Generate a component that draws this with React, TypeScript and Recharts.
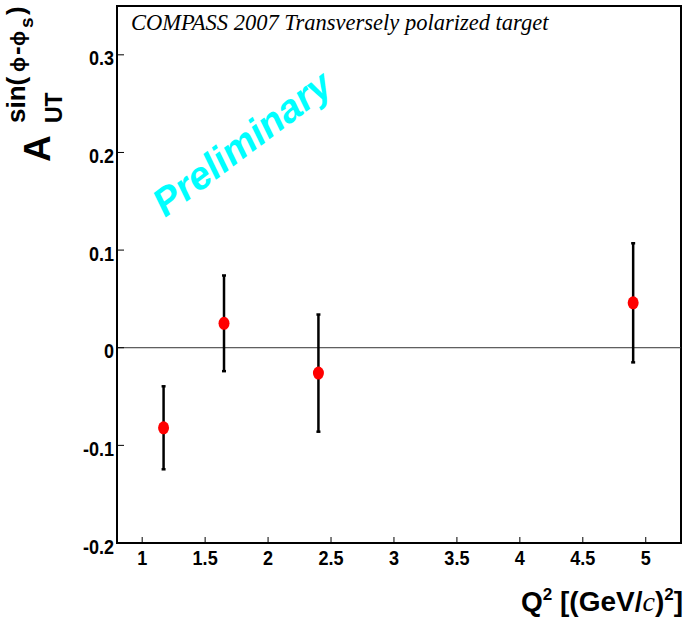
import React from 'react';
import {
  ScatterChart,
  Scatter,
  XAxis,
  YAxis,
  ErrorBar,
  ReferenceLine,
  ReferenceArea,
} from 'recharts';

// Q2 bins and measured asymmetry
const q2 = [1.17, 1.65, 2.4, 4.9];
const asym = [-0.082, 0.025, -0.026, 0.046];
const asymErr = [0.0425, 0.049, 0.06, 0.061];

const xTicks = [1, 1.5, 2, 2.5, 3, 3.5, 4, 4.5, 5];
const yTicks = [-0.2, -0.1, 0, 0.1, 0.2, 0.3];
const xDomain = [0.8, 5.28];
const yDomain = [-0.2, 0.35];

const points = q2.map((x, i) => ({ x, y: asym[i], err: asymErr[i] }));

const W = 689;
const H = 619;
const font = "'Liberation Sans', Arial, sans-serif";

const XTick = (props: any) => {
  const { x, y, payload } = props;
  return (
    <g>
      <line x1={x} y1={y} x2={x} y2={y - 6} stroke="#000" strokeWidth={1} />
      <g transform={`translate(${x},${y + 22}) scale(0.86,1)`}>
        <text textAnchor="middle" fontFamily={font} fontWeight="bold" fontSize={21} fill="#000">
          {payload.value}
        </text>
      </g>
    </g>
  );
};

const YTick = (props: any) => {
  const { x, y, payload } = props;
  return (
    <g>
      <line x1={x} y1={y} x2={x + 7} y2={y} stroke="#000" strokeWidth={1} />
      <g transform={`translate(${x - 3},${y + 10.5}) scale(0.86,1)`}>
        <text textAnchor="end" fontFamily={font} fontWeight="bold" fontSize={21} fill="#000">
          {payload.value}
        </text>
      </g>
    </g>
  );
};

// red marker, a bit taller than wide
const Dot = (props: any) => (
  <ellipse cx={props.cx} cy={props.cy} rx={5.5} ry={6.5} fill="#ff0000" />
);

export default function App() {
  return (
    <div style={{ position: 'absolute', left: 0, top: 0, width: W, height: H, background: '#fff' }}>
      <ScatterChart width={W} height={H} margin={{ top: 6, right: 8, bottom: 0, left: 0 }}>
        <XAxis
          type="number"
          dataKey="x"
          domain={xDomain}
          ticks={xTicks}
          allowDataOverflow
          height={76}
          tickSize={0}
          tickMargin={0}
          tickLine={false}
          axisLine={{ stroke: '#000', strokeWidth: 2 }}
          tick={XTick}
          interval={0}
        />
        <YAxis
          type="number"
          dataKey="y"
          domain={yDomain}
          ticks={yTicks}
          allowDataOverflow
          width={117}
          tickSize={0}
          tickMargin={0}
          tickLine={false}
          axisLine={{ stroke: '#000', strokeWidth: 2 }}
          tick={YTick}
          interval={0}
        />
        <ReferenceArea
          x1={xDomain[0]}
          x2={xDomain[1]}
          y1={yDomain[0]}
          y2={yDomain[1]}
          fill="none"
          fillOpacity={0}
          stroke="#000"
          strokeWidth={2}
        />
        <ReferenceLine y={0} stroke="#333" strokeWidth={1} />
        <Scatter data={points} shape={Dot} isAnimationActive={false}>
          <ErrorBar dataKey="err" direction="y" width={2} stroke="#000" strokeWidth={2.5} />
        </Scatter>
      </ScatterChart>

      <svg
        width={W}
        height={H}
        style={{ position: 'absolute', left: 0, top: 0, pointerEvents: 'none' }}
      >
        <text
          x={131}
          y={30}
          fontFamily="'Liberation Serif', 'Times New Roman', serif"
          fontStyle="italic"
          fontSize={22.5}
          fill="#000"
        >
          COMPASS 2007 Transversely polarized target
        </text>

        <text
          x={165}
          y={218}
          transform="rotate(-37 165 218)"
          fontFamily={font}
          fontWeight="bold"
          fontStyle="italic"
          fontSize={39}
          fill="#00ffff"
        >
          Preliminary
        </text>

        {/* y title: A_UT^{sin(phi-phi_s)}, reads bottom to top */}
        <text
          transform="translate(50 161) rotate(-90)"
          fontFamily={font}
          fontWeight="bold"
          fill="#000"
        >
          <tspan x={-1} y={0} fontSize={37}>A</tspan>
          <tspan x={38} y={12} fontSize={23}>UT</tspan>
          <tspan x={38} y={-25} fontSize={26}>sin(</tspan>
          <tspan x={89} y={-25} fontSize={20}>ϕ</tspan>
          <tspan x={106} y={-25} fontSize={26}>-</tspan>
          <tspan x={115} y={-25} fontSize={20}>ϕ</tspan>
          <tspan x={133} y={-17} fontSize={19}>s</tspan>
          <tspan x={146} y={-25} fontSize={26}>)</tspan>
        </text>

        {/* x title */}
        <text
          x={683}
          y={611}
          textAnchor="end"
          fontFamily={font}
          fontWeight="bold"
          fontSize={28}
          fill="#000"
        >
          Q<tspan dy={-11} fontSize={17}>2</tspan>
          <tspan dy={11}> [(GeV/</tspan>
          <tspan fontFamily="'Liberation Serif', serif" fontStyle="italic" fontWeight="normal">c</tspan>
          <tspan>)</tspan>
          <tspan dy={-11} fontSize={17}>2</tspan>
          <tspan dy={11}>]</tspan>
        </text>
      </svg>
    </div>
  );
}
